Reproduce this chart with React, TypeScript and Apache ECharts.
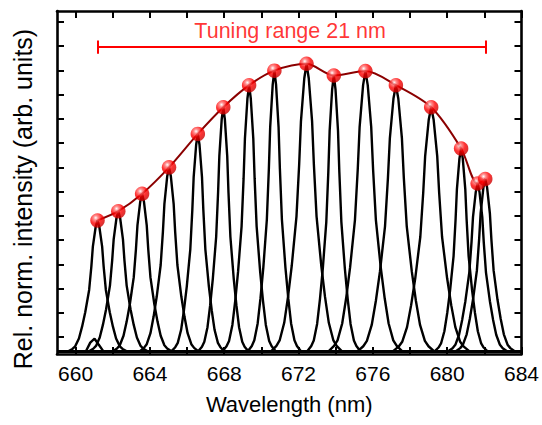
import React, { useEffect, useRef } from "react";
import * as echarts from "echarts";

const xMin = 659;
const xMax = 684;
const yMin = -0.07;
const yMax = 1.345;

const xTicks = [660, 662, 664, 666, 668, 670, 672, 674, 676, 678, 680, 682, 684];
const xLabels = [660, 664, 668, 672, 676, 680, 684];
const yTicks = [0, 0.1, 0.2, 0.3, 0.4, 0.5, 0.6, 0.7, 0.8, 0.9, 1.0, 1.1, 1.2, 1.3];

// peak positions (nm) and peak intensities
const peakCenters = [661.18, 662.3, 663.58, 665.03, 666.58, 667.95, 669.34, 670.7, 672.43, 673.9, 675.6, 677.24, 679.14, 680.75, 681.64, 682.05];
const peakHeights = [0.481, 0.519, 0.591, 0.7, 0.838, 0.948, 1.039, 1.099, 1.127, 1.079, 1.097, 1.039, 0.948, 0.778, 0.633, 0.652];
const peakWidths = [1.0, 1.0, 1.0, 1.0, 0.9, 0.85, 0.9, 0.9, 1.2, 0.9, 1.25, 1.3, 1.3, 0.9, 1.0, 1.0];

// measured line shape of one laser line (offset in nm, fraction of peak height)
const profileOffsets = [-1.6, -1.35, -1.2, -1.0, -0.83, -0.66, -0.45, -0.33, -0.25, -0.1, 0, 0.1, 0.25, 0.33, 0.45, 0.66, 0.83, 1.0, 1.2, 1.35, 1.6];
const profileLevels = [0, 0.02, 0.04, 0.1, 0.19, 0.3, 0.47, 0.65, 0.8, 0.95, 1, 0.95, 0.8, 0.65, 0.47, 0.3, 0.19, 0.1, 0.04, 0.02, 0];
const baseline = -0.06;

// small side mode next to the first line
const sideMode = [
  [660.53, -0.063],
  [660.79, -0.023],
  [661.02, -0.007],
  [661.24, -0.031],
  [661.5, -0.059],
];

const tuningStart = 661.18;
const tuningEnd = 682.05;
const tuningY = 1.196;
const capHalf = 0.027;
const tuningLabel = "Tuning range 21 nm";
const tuningLabelPos = [671.55, 1.262];

const xTitle = "Wavelength (nm)";
const yTitle = "Rel. norm. intensity (arb. units)";

const font = "'Liberation Sans', Arial, Helvetica, sans-serif";

export default function App() {
  const ref = useRef<HTMLDivElement>(null);

  useEffect(() => {
    if (!ref.current) return;
    const chart = echarts.init(ref.current, undefined, { renderer: "svg" });

    const spectra = peakCenters.map((c, i) => {
      const h = peakHeights[i];
      const w = peakWidths[i];
      const pts: number[][] = [[xMin, baseline]];
      profileOffsets.forEach((o, k) => {
        pts.push([c + o * w, baseline + profileLevels[k] * (h - baseline)]);
      });
      pts.push([xMax, baseline]);
      return {
        type: "line",
        name: "spectrum " + (i + 1),
        data: pts,
        symbol: "none",
        lineStyle: { color: "#000", width: 2.4 },
        z: 2,
        silent: true,
      };
    });

    const dots = peakCenters.map((c, i) => [c, peakHeights[i]]);

    const axisLine = { show: true, onZero: false, lineStyle: { color: "#000", width: 2.6 } };
    const axisTick = (vals: number[]) => ({
      show: true,
      inside: true,
      length: 7,
      customValues: vals,
      lineStyle: { color: "#000", width: 2 },
    });

    chart.setOption({
      animation: false,
      backgroundColor: "#fff",
      grid: { left: 57, right: 17, top: 11, bottom: 71 },
      graphic: [
        {
          type: "text",
          x: 22.5,
          y: 199,
          rotation: Math.PI / 2,
          style: {
            text: yTitle,
            fontSize: 25,
            fontFamily: font,
            fill: "#000",
            textAlign: "center",
            textVerticalAlign: "middle",
          },
          silent: true,
        },
      ],
      xAxis: [
        {
          type: "value",
          min: xMin,
          max: xMax,
          position: "bottom",
          axisLine,
          axisTick: axisTick(xTicks),
          axisLabel: { customValues: xLabels, fontSize: 21, color: "#000", margin: 9, fontFamily: font },
          splitLine: { show: false },
          name: xTitle,
          nameLocation: "middle",
          nameGap: 39,
          nameTextStyle: { fontSize: 22, color: "#000", fontFamily: font },
        },
        {
          type: "value",
          min: xMin,
          max: xMax,
          position: "top",
          axisLine,
          axisTick: axisTick(xTicks),
          axisLabel: { show: false },
          splitLine: { show: false },
        },
      ],
      yAxis: [
        {
          type: "value",
          min: yMin,
          max: yMax,
          position: "left",
          axisLine,
          axisTick: axisTick(yTicks),
          axisLabel: { show: false },
          splitLine: { show: false },
        },
        {
          type: "value",
          min: yMin,
          max: yMax,
          position: "right",
          axisLine,
          axisTick: axisTick(yTicks),
          axisLabel: { show: false },
          splitLine: { show: false },
        },
      ],
      series: [
        ...spectra,
        {
          type: "line",
          name: "side mode",
          data: sideMode,
          symbol: "none",
          lineStyle: { color: "#000", width: 2.4 },
          z: 2,
          silent: true,
        },
        {
          type: "line",
          name: "envelope",
          data: dots,
          smooth: 0.3,
          symbol: "none",
          lineStyle: { color: "#8B0000", width: 2 },
          z: 3,
          silent: true,
        },
        {
          type: "scatter",
          name: "peaks",
          data: dots,
          symbolSize: 14.5,
          itemStyle: {
            color: {
              type: "radial",
              x: 0.38,
              y: 0.32,
              r: 0.7,
              colorStops: [
                { offset: 0, color: "#ffffff" },
                { offset: 0.22, color: "#ff7070" },
                { offset: 0.55, color: "#ff0000" },
                { offset: 1, color: "#c80000" },
              ],
            },
          },
          z: 4,
          silent: true,
        },
        {
          type: "lines",
          coordinateSystem: "cartesian2d",
          name: "tuning range",
          data: [
            { coords: [[tuningStart, tuningY], [tuningEnd, tuningY]] },
            { coords: [[tuningStart, tuningY - capHalf], [tuningStart, tuningY + capHalf]] },
            { coords: [[tuningEnd, tuningY - capHalf], [tuningEnd, tuningY + capHalf]] },
          ],
          lineStyle: { color: "#ff0000", width: 2, opacity: 1, curveness: 0 },
          z: 3,
          silent: true,
        },
        {
          type: "scatter",
          name: "label",
          data: [tuningLabelPos],
          symbolSize: 1,
          itemStyle: { color: "rgba(0,0,0,0)" },
          label: {
            show: true,
            position: "inside",
            formatter: tuningLabel,
            color: "#ff0000",
            fontSize: 21.5,
            fontFamily: font,
          },
          z: 5,
          silent: true,
        },
      ],
    });

    return () => chart.dispose();
  }, []);

  return (
    <div
      ref={ref}
      style={{ position: "fixed", left: 0, top: 0, width: 542, height: 425, background: "#fff" }}
    />
  );
}
